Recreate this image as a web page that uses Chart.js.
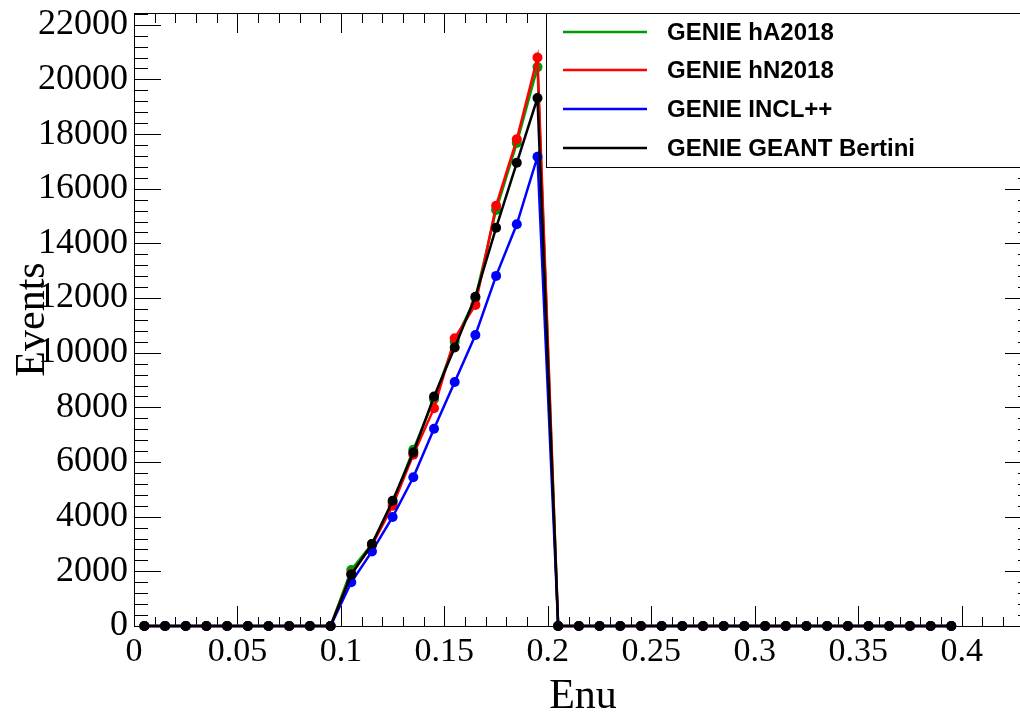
<!DOCTYPE html>
<html>
<head>
<meta charset="utf-8">
<script src="https://cdn.jsdelivr.net/npm/chart.js@4/dist/chart.umd.min.js"></script>
<style>
html,body{margin:0;padding:0;background:#fff;overflow:hidden;width:1020px;height:718px;}
canvas{display:block;}
</style>
</head>
<body>
<canvas id="c" width="1032" height="718"></canvas>
<script>
// Bin centres (Enu)
const enuBins = [0.005,0.015,0.025,0.035,0.045,0.055,0.065,0.075,0.085,0.095,
                 0.105,0.115,0.125,0.135,0.145,0.155,0.165,0.175,0.185,0.195,
                 0.205,0.215,0.225,0.235,0.245,0.255,0.265,0.275,0.285,0.295,
                 0.305,0.315,0.325,0.335,0.345,0.355,0.365,0.375,0.385,0.395];
const seriesLabels = ["GENIE hA2018","GENIE hN2018","GENIE INCL++","GENIE GEANT Bertini"];
const hA2018 = [0,0,0,0,0,0,0,0,0,0,
                2050,3000,4500,6450,8300,10400,12000,15220,17670,20450,
                0,0,0,0,0,0,0,0,0,0,0,0,0,0,0,0,0,0,0,0];
const hN2018 = [0,0,0,0,0,0,0,0,0,0,
                1900,2950,4400,6270,7970,10530,11750,15380,17810,20800,
                0,0,0,0,0,0,0,0,0,0,0,0,0,0,0,0,0,0,0,0];
const inclpp = [0,0,0,0,0,0,0,0,0,0,
                1600,2730,3990,5440,7220,8930,10650,12810,14700,17170,
                0,0,0,0,0,0,0,0,0,0,0,0,0,0,0,0,0,0,0,0];
const bertini = [0,0,0,0,0,0,0,0,0,0,
                 1880,3000,4585,6350,8400,10190,12050,14570,16950,19320,
                 0,0,0,0,0,0,0,0,0,0,0,0,0,0,0,0,0,0,0,0];
const seriesColors = ["#009a00","#ff0000","#0000ff","#000000"];
const xTickLabels = [0, 0.05, 0.1, 0.15, 0.2, 0.25, 0.3, 0.35, 0.4];
const yTickLabels = [0, 2000, 4000, 6000, 8000, 10000, 12000, 14000, 16000, 18000, 20000, 22000];

const allSeries = [hA2018, hN2018, inclpp, bertini];
const datasets = allSeries.map((vals, k) => ({
  label: seriesLabels[k],
  data: enuBins.map((x, i) => ({x: x, y: vals[i]})),
  borderColor: seriesColors[k],
  backgroundColor: seriesColors[k],
  pointBackgroundColor: seriesColors[k],
  pointBorderColor: seriesColors[k],
  borderWidth: 2.5,
  pointRadius: 5,
  pointBorderWidth: 0,
  tension: 0,
  clip: false,
  order: 4 - k
}));

const framePlugin = {
  id: 'frame',
  beforeDatasetsDraw(chart) {
    const ctx = chart.ctx, a = chart.chartArea;
    const xs = chart.scales.x, ys = chart.scales.y;
    ctx.save();
    ctx.strokeStyle = '#000';
    ctx.lineWidth = 1;
    ctx.beginPath();
    // x ticks (bottom & top), minor every 0.01
    const nx = Math.floor(xs.max * 100 + 1e-6);
    for (let i = 0; i <= nx; i++) {
      const px = Math.round(xs.getPixelForValue(i / 100)) + 0.5;
      const major = (i % 5 === 0);
      ctx.moveTo(px, a.bottom); ctx.lineTo(px, a.bottom - (major ? 20 : 9));
      ctx.moveTo(px, a.top); ctx.lineTo(px, a.top + (major ? 20 : 10));
    }
    // y ticks (left & right), minor every 400
    const ny = Math.floor(ys.max / 400 + 1e-6);
    for (let j = 0; j <= ny; j++) {
      const py = Math.round(ys.getPixelForValue(j * 400)) + 0.5;
      const len = (j % 5 === 0) ? 27 : 14;
      ctx.moveTo(a.left, py); ctx.lineTo(a.left + len, py);
      ctx.moveTo(a.right, py); ctx.lineTo(a.right - len, py);
    }
    ctx.stroke();
    ctx.strokeRect(Math.round(a.left) + 0.5, Math.round(a.top) + 0.5,
                   Math.round(a.right - a.left), Math.round(a.bottom - a.top));
    ctx.restore();
  },
  afterDraw(chart) {
    const ctx = chart.ctx;
    const bx = 546, by = 13, bw = 520, bh = 154;
    ctx.save();
    ctx.fillStyle = '#fff';
    ctx.fillRect(bx, by, bw, bh);
    ctx.strokeStyle = '#000';
    ctx.lineWidth = 1;
    ctx.strokeRect(bx + 0.5, by + 0.5, bw, bh);
    ctx.font = 'bold 24px "Liberation Sans", Arial, sans-serif';
    ctx.textBaseline = 'middle';
    ctx.textAlign = 'left';
    const rows = [32, 70, 109, 148];
    chart.data.datasets.forEach((ds, k) => {
      const y = rows[k];
      ctx.strokeStyle = ds.borderColor;
      ctx.lineWidth = 2.5;
      ctx.beginPath();
      ctx.moveTo(563, y); ctx.lineTo(647, y);
      ctx.stroke();
      ctx.fillStyle = '#000';
      ctx.fillText(ds.label, 667, y + 1);
    });
    ctx.restore();
  }
};

new Chart(document.getElementById('c'), {
  type: 'line',
  data: { datasets: datasets },
  options: {
    responsive: false,
    animation: false,
    devicePixelRatio: 1,
    layout: { autoPadding: false, padding: { left: 0, top: 13, right: 0, bottom: 0 } },
    plugins: { legend: { display: false }, tooltip: { enabled: false } },
    scales: {
      x: {
        type: 'linear',
        min: 0,
        max: 0.434,
        border: { display: false },
        grid: { display: false, drawTicks: false },
        afterBuildTicks: (s) => { s.ticks = xTickLabels.map(v => ({value: v})); },
        ticks: {
          autoSkip: false,
          maxRotation: 0,
          padding: 9,
          color: '#000',
          font: { family: '"Liberation Serif", "Times New Roman", serif', size: 34, lineHeight: 1 },
          callback: (v) => String(+(+v).toFixed(2))
        },
        title: {
          display: true,
          text: 'Enu',
          color: '#000',
          font: { family: '"Liberation Serif", "Times New Roman", serif', size: 42, lineHeight: 1 },
          padding: { top: 0, bottom: 0 }
        },
        afterFit: (s) => { s.height = 92; s.paddingLeft = 0; s.paddingRight = 0; }
      },
      y: {
        type: 'linear',
        min: 0,
        max: 22430,
        border: { display: false },
        grid: { display: false, drawTicks: false },
        afterBuildTicks: (s) => { s.ticks = yTickLabels.map(v => ({value: v})); },
        ticks: {
          autoSkip: false,
          padding: 6,
          color: '#000',
          font: { family: '"Liberation Serif", "Times New Roman", serif', size: 36, lineHeight: 1 },
          callback: (v) => String(v)
        },
        title: {
          display: true,
          text: 'Events',
          color: '#000',
          font: { family: '"Liberation Serif", "Times New Roman", serif', size: 42, lineHeight: 1 },
          padding: { top: 12, bottom: 0 }
        },
        afterFit: (s) => { s.width = 134; s.paddingTop = 0; s.paddingBottom = 0; }
      }
    }
  },
  plugins: [framePlugin]
});
</script>
</body>
</html>
